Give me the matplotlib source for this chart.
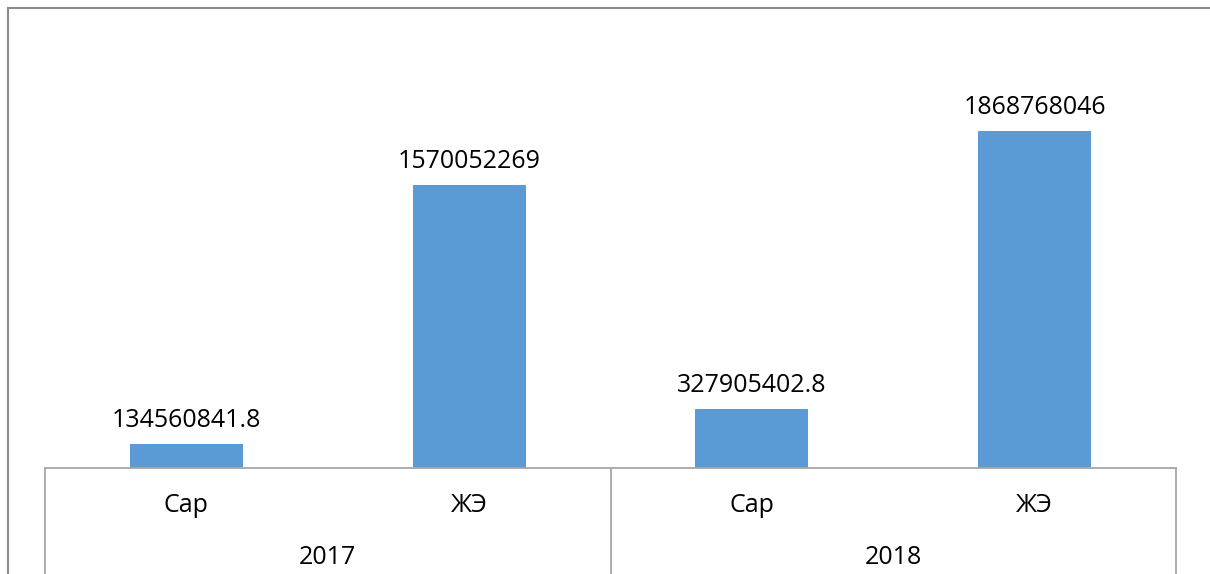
import matplotlib
matplotlib.use("Agg")
import matplotlib.pyplot as plt
from matplotlib.lines import Line2D

# data
years = ["2017", "2018"]
groups = ["Сар", "ЖЭ"]
values_2017 = [134560841.8, 1570052269]
values_2018 = [327905402.8, 1868768046]
value_labels = ["134560841.8", "1570052269", "327905402.8", "1868768046"]

plt.rcParams['font.family'] = ['Open Sans', 'DejaVu Sans']

W, H = 1210, 574
fig = plt.figure(figsize=(W / 100, H / 100), dpi=100)

# plot area in pixels
left, right, base, top = 45, 1176, 468, 30
ax = fig.add_axes([left / W, (H - base) / H, (right - left) / W, (base - top) / H])

values = values_2017 + values_2018
xs = list(range(len(values)))
bars = ax.bar(xs, values, width=0.4, color="#5B9BD5")
ax.bar_label(bars, labels=value_labels, padding=8, fontsize=18, color="#000000")

ax.set_xlim(-0.5, len(values) - 0.5)
scale = 1570052269 / (base - 185)
ax.set_ylim(0, scale * (base - top))
ax.set_xticks([])
ax.set_yticks([])
for s in ["top", "left", "right"]:
    ax.spines[s].set_visible(False)
ax.spines["bottom"].set_color("#a6a6a6")
ax.spines["bottom"].set_linewidth(1.3)

def fx(px):
    return px / W

def fy(py):
    return 1 - py / H

# outer chart border (top and left only visible)
fig.add_artist(Line2D([fx(8), fx(W)], [fy(8), fy(8)], color="#8c8c8c", lw=1.5))
fig.add_artist(Line2D([fx(8), fx(8)], [fy(8), fy(H)], color="#8c8c8c", lw=1.5))

# multi-level category axis separators
for px in [left, (left + right) / 2, right]:
    fig.add_artist(Line2D([fx(px), fx(px)], [fy(base), fy(H)], color="#a6a6a6", lw=1.3))

# category labels
cat_w = (right - left) / len(values)
for i in range(len(values)):
    cx = left + cat_w * (i + 0.5)
    fig.text(fx(cx), fy(505), groups[i % 2], ha="center", va="center", fontsize=18)
for j, yr in enumerate(years):
    cx = left + cat_w * (2 * j + 1)
    fig.text(fx(cx), fy(557), yr, ha="center", va="center", fontsize=18)

fig.savefig("out.png", dpi=100)
